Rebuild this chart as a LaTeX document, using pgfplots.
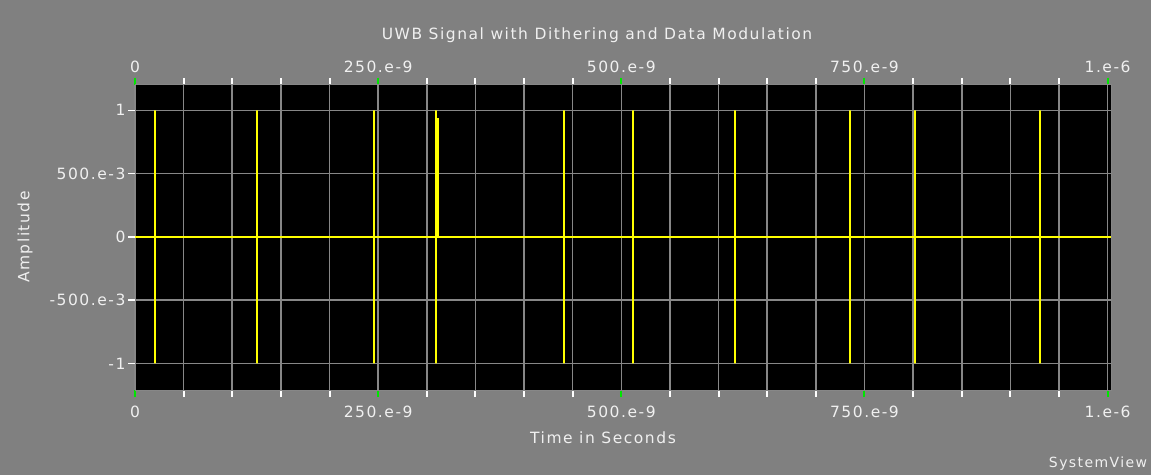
\documentclass[border=0pt]{standalone}
\usepackage{pgfplots}
\pgfplotsset{compat=1.18}
\usepackage{fontspec}
\setmainfont{DejaVu Sans}[LetterSpace=10]
\definecolor{bg}{RGB}{128,128,128}
\definecolor{txt}{RGB}{240,240,240}
\definecolor{grd}{RGB}{135,135,135}
\definecolor{sig}{RGB}{255,255,0}
\definecolor{tgreen}{RGB}{0,230,0}
\newcommand{\lblfont}{\fontsize{15.5}{18}\selectfont}
\begin{document}
\begin{tikzpicture}[x=1pt,y=1pt]
\fill[bg] (0,0) rectangle (1151,475);
\begin{axis}[
  at={(135pt,85pt)}, anchor=south west,
  scale only axis, width=976pt, height=305pt,
  xmin=0, xmax=1003.5, ymin=-1.21, ymax=1.2,
  axis background/.style={fill=black},
  axis line style={draw=grd, line width=1pt},
  xtick={0,250,500,750,1000},
  xticklabels={0,250.e-9,500.e-9,750.e-9,1.e-6},
  minor xtick={50,100,150,200,300,350,400,450,550,600,650,700,800,850,900,950},
  ytick={-1,-0.5,0,0.5,1},
  yticklabels={-1,-500.e-3,0,500.e-3,1},
  xtick pos=both, ytick pos=left,
  xticklabel pos=lower,
  tick align=outside,
  major tick length=7pt, minor tick length=7pt,
  major x tick style={draw=tgreen, line width=2pt},
  minor x tick style={draw=white, line width=2pt},
  major y tick style={draw=white, line width=1.5pt},
  grid=both,
  major grid style={grd, line width=1.6pt},
  minor grid style={grd, line width=1.6pt},
  every tick label/.append style={font=\lblfont, text=txt},
  xticklabel style={anchor=north, yshift=-5pt},
  yticklabel style={anchor=east, xshift=1pt},
]
\addplot[sig, line width=2pt, line join=miter] coordinates {
(0,0)
(20.9,0)(20.9,1)(20.9,-1)(20.9,0)
(125.5,0)(125.5,1)(125.5,-1)(125.5,0)
(246.1,0)(246.1,1)(246.1,-1)(246.1,0)
(309.3,0)(309.3,1)(309.3,-1)(309.3,0)(310.5,0)(310.5,0.93)(311.5,0.93)(311.5,0)
(441.2,0)(441.2,1)(441.2,-1)(441.2,0)
(512.2,0)(512.2,1)(512.2,-1)(512.2,0)
(616.8,0)(616.8,1)(616.8,-1)(616.8,0)
(735.4,0)(735.4,1)(735.4,-1)(735.4,0)
(802.2,0)(802.2,1)(802.2,-1)(802.2,0)
(930.8,0)(930.8,1)(930.8,-1)(930.8,0)
(1003.5,0)
};
\end{axis}
\begin{axis}[
  at={(135pt,85pt)}, anchor=south west,
  scale only axis, width=976pt, height=305pt,
  xmin=0, xmax=1003.5, ymin=-1.21, ymax=1.2,
  axis line style={draw=none},
  xtick={0,250,500,750,1000},
  xticklabels={0,250.e-9,500.e-9,750.e-9,1.e-6},
  ytick=\empty,
  xticklabel pos=upper,
  major tick length=0pt,
  every tick label/.append style={font=\lblfont, text=txt},
  xticklabel style={anchor=south, yshift=9pt},
]
\end{axis}
\node[text=txt, font=\lblfont] at (597,440) {UWB Signal with Dithering and Data Modulation};
\node[text=txt, font=\lblfont] at (603,37) {Time in Seconds};
\node[text=txt, font=\lblfont, rotate=90] at (25,238) {Amplitude};
\node[text=txt, font=\fontsize{14}{16}\selectfont] at (1098,11) {SystemView};
\end{tikzpicture}
\end{document}
